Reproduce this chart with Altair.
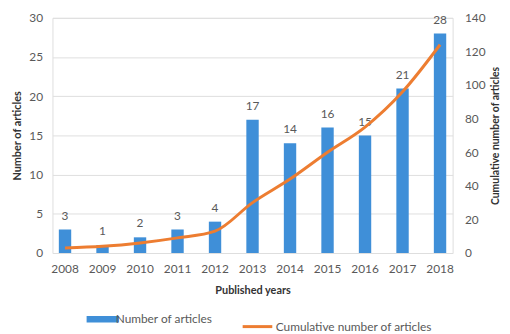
import altair as alt
import pandas as pd

years = ["2008", "2009", "2010", "2011", "2012", "2013", "2014", "2015", "2016", "2017", "2018"]
articles = [3, 1, 2, 3, 4, 17, 14, 16, 15, 21, 28]
cumulative = [3, 4, 6, 9, 13, 30, 44, 60, 75, 96, 124]

df = pd.DataFrame({
    "year": years,
    "articles": articles,
    "cumulative": cumulative,
    "bar_series": ["Number of articles"] * len(years),
    "line_series": ["Cumulative number of articles"] * len(years),
})

FONT = "Lato"
LABEL = "#595959"
TITLE = "#333333"

x = alt.X("year:N", title="Published years",
          scale=alt.Scale(paddingInner=0.67, paddingOuter=0.17),
          axis=alt.Axis(labelAngle=0, ticks=False, domain=False, labelPadding=11,
                        labelFontSize=12, labelColor=LABEL, titleFontSize=11,
                        titleFontWeight="bold", titleColor=TITLE, titlePadding=10,
                        labelFont=FONT, titleFont=FONT))

yleft = alt.Y("articles:Q", title="Number of articles",
              scale=alt.Scale(domain=[0, 30]),
              axis=alt.Axis(values=[0, 5, 10, 15, 20, 25, 30], ticks=False, domain=False,
                            gridColor="#dedede", labelFontSize=12, labelColor=LABEL,
                            labelPadding=10, titleFontSize=11, titleFontWeight="bold",
                            titleColor=TITLE, titlePadding=6, labelFont=FONT, titleFont=FONT))

base = alt.Chart(df)

bars = base.mark_bar(
    color=alt.Gradient(gradient="linear", x1=0, y1=0, x2=0, y2=1,
                       stops=[alt.GradientStop(color="#55a5eb", offset=0),
                              alt.GradientStop(color="#2a63a3", offset=1)])
).encode(
    x=x,
    y=yleft,
    fill=alt.Fill("bar_series:N", title=None,
                  scale=alt.Scale(range=["#3f8fd8"]),
                  legend=alt.Legend(orient="none", legendX=40, legendY=294, padding=0,
                                    symbolType="M-1.5,-0.3H1.5V0.3H-1.5Z",
                                    symbolSize=480, symbolStrokeWidth=0, labelOffset=2,
                                    labelFontSize=12, labelColor=LABEL, labelFont=FONT)),
)

text = base.mark_text(baseline="bottom", dy=-7, fontSize=12, color=LABEL, font=FONT).encode(
    x=x,
    y=yleft,
    text="articles:Q",
)

line = base.mark_line(strokeWidth=3, interpolate="monotone").encode(
    x=x,
    y=alt.Y("cumulative:Q", title="Cumulative number of articles",
            scale=alt.Scale(domain=[0, 140]),
            axis=alt.Axis(orient="right", values=[0, 20, 40, 60, 80, 100, 120, 140],
                          ticks=False, domain=False, grid=False, labelFontSize=12,
                          labelColor=LABEL, labelPadding=12, titleFontSize=10.5,
                          titleFontWeight="bold", titleColor=TITLE, titlePadding=16,
                          titleAngle=270, labelFont=FONT, titleFont=FONT)),
    stroke=alt.Stroke("line_series:N", title=None,
                      scale=alt.Scale(range=["#ed7d31"]),
                      legend=alt.Legend(orient="none", legendX=191, legendY=296, padding=0,
                                        symbolType="stroke", labelOffset=2,
                                        symbolSize=900, symbolStrokeWidth=3,
                                        labelFontSize=12, labelColor=LABEL, labelFont=FONT)),
)

left = alt.layer(bars, text)
chart = alt.layer(left, line).resolve_scale(y="independent").properties(
    width=405, height=238,
    autosize=alt.AutoSizeParams(type="none"),
    padding={"left": 45, "top": 8, "right": 50, "bottom": 80},
).configure_view(stroke=None).configure(background="white")

chart.save("out.html", embed_options={"renderer": "svg", "actions": False})
